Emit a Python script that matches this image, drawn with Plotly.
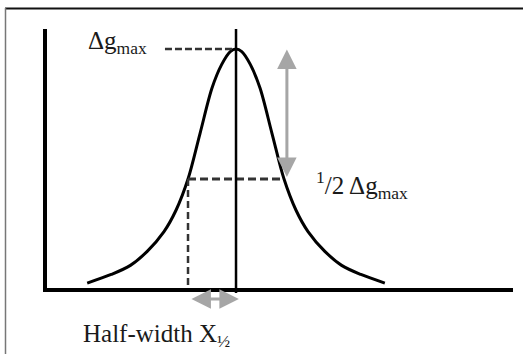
import plotly.graph_objects as go

# Anomaly profile: horizontal distance in units of the half-width X½,
# anomaly normalised to its maximum Δg_max.
CURVE_X = [-3.1, -2.6, -2.2, -1.85, -1.5, -1.25, -1.0, -0.75, -0.5, -0.3, -0.12, 0.0,
           0.12, 0.3, 0.5, 0.75, 1.0, 1.25, 1.5, 1.85, 2.2, 2.6, 3.1]
CURVE_Y = [0.10, 0.133, 0.168, 0.222, 0.298, 0.38, 0.50, 0.675, 0.85, 0.94, 0.99, 1.0,
           0.99, 0.94, 0.85, 0.675, 0.50, 0.38, 0.298, 0.222, 0.168, 0.133, 0.10]

DG_MAX = 1.0          # peak anomaly
HALF_WIDTH = 1.0      # X½, distance from the peak to the half-maximum point

PEAK_LABEL = "Δg<sub>max</sub>"
HALF_LABEL = "<sup>1</sup>/2 Δg<sub>max</sub>"
WIDTH_LABEL = "Half-width X<sub>½</sub>"

X_RANGE = [-3.9375, 5.77]
Y_RANGE = [0.081, 1.077]

W, H = 523, 354
M = dict(l=47, r=10, t=29, b=66)
PLOT_W = W - M["l"] - M["r"]
PLOT_H = H - M["t"] - M["b"]


def xpaper(x):
    return (x - X_RANGE[0]) / (X_RANGE[1] - X_RANGE[0])


def px_x(px):
    return (px - M["l"]) / PLOT_W


def px_y(py):
    return (H - M["b"] - py) / PLOT_H


SERIF = "Liberation Serif, Times New Roman, serif"
TEXT_COL = "#1a1a1a"
DASH_COL = "#333333"
ARROW_COL = "#a6a6a6"
FONT_SIZE = 25

fig = go.Figure()

fig.add_trace(go.Scatter(
    x=CURVE_X, y=CURVE_Y, mode="lines",
    line=dict(color="black", width=3, shape="spline", smoothing=0.9),
    hoverinfo="skip", showlegend=False,
))

# dashed guide from the peak label to the maximum
fig.add_trace(go.Scatter(
    x=[-1.48, 0.0], y=[DG_MAX, DG_MAX], mode="lines",
    line=dict(color=DASH_COL, width=2.5, dash="7px,3px"),
    hoverinfo="skip", showlegend=False,
))
# dashed half-maximum level
fig.add_trace(go.Scatter(
    x=[-HALF_WIDTH, HALF_WIDTH], y=[DG_MAX / 2, DG_MAX / 2], mode="lines",
    line=dict(color=DASH_COL, width=3, dash="8px,4px"),
    hoverinfo="skip", showlegend=False,
))

shapes = [
    # vertical dashed drop from the half-maximum point
    dict(type="line", xref="paper", yref="paper",
         x0=xpaper(-HALF_WIDTH), x1=xpaper(-HALF_WIDTH),
         y0=px_y(285), y1=(DG_MAX / 2 - Y_RANGE[0]) / (Y_RANGE[1] - Y_RANGE[0]),
         line=dict(color=DASH_COL, width=2.5, dash="7px,4px")),
    # vertical line through the peak
    dict(type="line", xref="paper", yref="paper",
         x0=xpaper(0), x1=xpaper(0), y0=px_y(293), y1=1.0,
         line=dict(color="black", width=2.5)),
    # outer frame (top and left edges)
    dict(type="line", xref="paper", yref="paper",
         x0=px_x(5), x1=px_x(523), y0=px_y(8.5), y1=px_y(8.5),
         line=dict(color="#111111", width=2)),
    dict(type="line", xref="paper", yref="paper",
         x0=px_x(5.5), x1=px_x(5.5), y0=px_y(8), y1=px_y(354),
         line=dict(color="#777777", width=1.5)),
]

annotations = [
    # double arrow between maximum and half maximum
    dict(x=1.06, y=0.508, xref="x", yref="y",
         ax=1.06, ay=1.004, axref="x", ayref="y",
         text="", showarrow=True, arrowside="end+start",
         arrowhead=2, arrowsize=1.3, arrowwidth=3, arrowcolor=ARROW_COL, standoff=0, startstandoff=0),
    # double arrow marking the half-width
    dict(x=0.06, y=px_y(299), xref="x", yref="paper",
         ax=-0.96, ay=0, axref="x", ayref="pixel",
         text="", showarrow=True, arrowside="end+start",
         arrowhead=2, arrowsize=1.3, arrowwidth=3, arrowcolor=ARROW_COL, standoff=0, startstandoff=0),
    dict(x=-3.12, y=1.024, xref="x", yref="y", xanchor="left", yanchor="middle",
         text=PEAK_LABEL, showarrow=False, font=dict(family=SERIF, size=FONT_SIZE, color=TEXT_COL)),
    dict(x=1.63, y=0.478, xref="x", yref="y", xanchor="left", yanchor="middle",
         text=HALF_LABEL, showarrow=False, font=dict(family=SERIF, size=FONT_SIZE, color=TEXT_COL)),
    dict(x=px_x(81), y=px_y(335), xref="paper", yref="paper", xanchor="left", yanchor="middle",
         text=WIDTH_LABEL, showarrow=False, font=dict(family=SERIF, size=FONT_SIZE, color=TEXT_COL)),
]

fig.update_layout(
    width=W, height=H, margin=M,
    paper_bgcolor="white", plot_bgcolor="white",
    showlegend=False,
    shapes=shapes, annotations=annotations,
    xaxis=dict(range=X_RANGE, showline=True, linecolor="black", linewidth=3.5,
               showgrid=False, zeroline=False, showticklabels=False, ticks=""),
    yaxis=dict(range=Y_RANGE, showline=True, linecolor="black", linewidth=3.5,
               showgrid=False, zeroline=False, showticklabels=False, ticks=""),
)

fig.write_html("out.html")
